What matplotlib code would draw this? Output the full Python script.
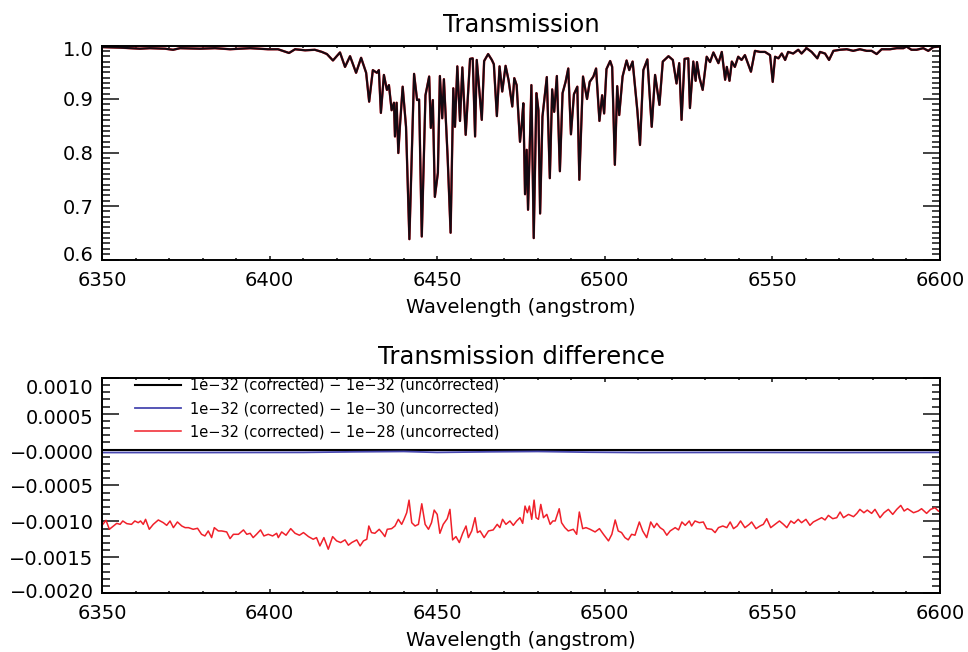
import matplotlib
matplotlib.use("Agg")
import matplotlib.pyplot as plt
from matplotlib.ticker import MultipleLocator, FixedLocator, FixedFormatter
from matplotlib.transforms import ScaledTranslation
import numpy as np

# ---------------- data ----------------
wave_top = [6350.0, 6355.4, 6361.3, 6364.3, 6368.8, 6371.2, 6373.3, 6379.2, 6383.7, 6388.2,
            6394.2, 6399.5, 6402.5, 6405.8, 6407.6, 6410.6, 6413.5, 6415.6, 6417.1, 6418.9,
            6421.0, 6422.5, 6424.0, 6425.8, 6427.3, 6428.8, 6429.7, 6430.8, 6432.0, 6432.6,
            6433.2, 6434.1, 6435.0, 6435.6, 6436.4, 6437.1, 6437.4, 6437.9, 6438.4, 6438.9,
            6439.7, 6440.7, 6441.7, 6443.1, 6444.0, 6444.6, 6445.4, 6446.5, 6447.6, 6448.1,
            6448.7, 6449.3, 6450.2, 6450.8, 6451.5, 6452.0, 6453.1, 6454.0, 6454.8, 6455.3,
            6456.0, 6456.8, 6457.5, 6458.5, 6459.8, 6460.6, 6461.3, 6461.8, 6463.3, 6464.0,
            6465.2, 6466.3, 6466.9, 6467.8, 6468.6, 6469.4, 6470.4, 6471.3, 6472.4, 6473.0,
            6473.7, 6474.7, 6475.2, 6475.7, 6476.2, 6476.7, 6477.1, 6478.1, 6478.8, 6479.6,
            6480.2, 6480.7, 6481.4, 6482.7, 6483.6, 6484.3, 6484.9, 6485.7, 6486.6, 6487.4,
            6488.3, 6489.1, 6489.9, 6490.8, 6491.8, 6492.4, 6493.5, 6494.7, 6495.5, 6496.6,
            6497.4, 6498.4, 6499.2, 6499.8, 6500.5, 6501.6, 6502.2, 6503.0, 6503.7, 6504.3,
            6505.3, 6506.5, 6507.3, 6508.3, 6509.7, 6510.5, 6511.5, 6512.7, 6514.0, 6515.0,
            6516.3, 6517.3, 6519.0, 6520.3, 6521.4, 6522.2, 6522.9, 6523.8, 6524.9, 6525.4,
            6526.4, 6527.1, 6527.5, 6528.2, 6529.2, 6530.4, 6531.4, 6532.4, 6533.9, 6534.9,
            6535.9, 6536.4, 6537.2, 6537.9, 6538.8, 6539.8, 6540.8, 6541.8, 6543.6, 6544.8,
            6546.3, 6547.8, 6549.3, 6550.1, 6550.8, 6551.8, 6552.8, 6553.8, 6554.7, 6556.2,
            6557.7, 6558.7, 6560.2, 6561.7, 6563.4, 6564.2, 6565.7, 6566.9, 6568.2, 6570.2,
            6572.2, 6574.1, 6576.1, 6578.1, 6579.6, 6581.1, 6582.6, 6585.1, 6587.1, 6589.1,
            6590.0, 6591.5, 6593.0, 6595.0, 6596.5, 6598.0, 6599.8, 6600.0]
trans_top = [0.997, 0.996, 0.994, 0.995, 0.994, 0.992, 0.995, 0.994, 0.995, 0.993,
             0.995, 0.993, 0.993, 0.986, 0.993, 0.991, 0.992, 0.988, 0.984, 0.972,
             0.987, 0.960, 0.980, 0.949, 0.977, 0.949, 0.895, 0.954, 0.949, 0.954,
             0.874, 0.945, 0.917, 0.926, 0.879, 0.893, 0.830, 0.893, 0.799, 0.851,
             0.923, 0.848, 0.638, 0.947, 0.898, 0.899, 0.643, 0.907, 0.942, 0.846,
             0.898, 0.717, 0.762, 0.943, 0.864, 0.937, 0.793, 0.650, 0.920, 0.848,
             0.961, 0.859, 0.959, 0.833, 0.975, 0.976, 0.830, 0.973, 0.861, 0.971,
             0.984, 0.973, 0.965, 0.868, 0.961, 0.914, 0.962, 0.935, 0.886, 0.939,
             0.926, 0.820, 0.851, 0.892, 0.722, 0.805, 0.693, 0.926, 0.640, 0.911,
             0.879, 0.686, 0.867, 0.941, 0.752, 0.918, 0.876, 0.943, 0.765, 0.911,
             0.932, 0.957, 0.834, 0.909, 0.923, 0.749, 0.942, 0.900, 0.932, 0.942,
             0.957, 0.859, 0.907, 0.873, 0.956, 0.971, 0.960, 0.777, 0.924, 0.870,
             0.942, 0.972, 0.954, 0.970, 0.879, 0.814, 0.954, 0.974, 0.848, 0.945,
             0.889, 0.970, 0.980, 0.973, 0.929, 0.967, 0.861, 0.975, 0.976, 0.883,
             0.970, 0.934, 0.969, 0.941, 0.917, 0.979, 0.969, 0.987, 0.967, 0.988,
             0.936, 0.960, 0.934, 0.970, 0.960, 0.979, 0.973, 0.982, 0.951, 0.990,
             0.988, 0.988, 0.982, 0.932, 0.979, 0.976, 0.985, 0.973, 0.988, 0.985,
             0.992, 0.985, 0.995, 0.988, 0.976, 0.988, 0.985, 0.973, 0.990, 0.992,
             0.993, 0.990, 0.993, 0.990, 0.990, 0.984, 0.993, 0.993, 0.995, 0.995,
             0.998, 0.992, 0.992, 0.995, 0.990, 0.997, 0.998, 0.998]

wave_red = [6350.0, 6351.2, 6352.2, 6353.4, 6354.4, 6355.4, 6356.2, 6357.4, 6358.8, 6359.8,
            6360.8, 6361.5, 6362.3, 6363.0, 6364.1, 6365.3, 6366.8, 6368.3, 6369.3, 6370.3,
            6371.3, 6372.5, 6373.8, 6374.8, 6375.8, 6377.2, 6378.5, 6379.7, 6380.7, 6381.7,
            6382.7, 6383.5, 6384.7, 6385.7, 6387.2, 6388.2, 6389.2, 6390.7, 6392.2, 6393.2,
            6394.2, 6395.1, 6396.1, 6397.3, 6398.3, 6399.6, 6400.9, 6402.1, 6402.6, 6403.6,
            6404.9, 6406.3, 6407.6, 6408.9, 6410.1, 6411.6, 6413.0, 6414.0, 6415.0, 6416.2,
            6417.5, 6418.8, 6420.0, 6421.2, 6422.5, 6423.5, 6424.5, 6426.0, 6427.0, 6428.0,
            6429.0, 6429.6, 6430.4, 6431.4, 6432.7, 6433.7, 6434.4, 6435.1, 6436.4, 6437.4,
            6438.4, 6439.4, 6440.1, 6440.9, 6441.6, 6442.4, 6443.4, 6444.4, 6445.4, 6446.4,
            6447.4, 6448.3, 6449.1, 6450.0, 6450.8, 6451.8, 6453.0, 6453.8, 6454.6, 6455.6,
            6456.6, 6457.6, 6458.6, 6459.3, 6460.3, 6461.3, 6462.0, 6462.8, 6464.0, 6465.3,
            6466.7, 6467.9, 6468.7, 6469.5, 6470.5, 6471.7, 6472.7, 6473.7, 6474.7, 6475.5,
            6476.2, 6476.9, 6477.5, 6478.2, 6478.9, 6479.5, 6480.2, 6480.9, 6481.7, 6482.7,
            6483.7, 6484.5, 6485.2, 6486.4, 6487.1, 6488.1, 6489.1, 6490.6, 6491.6, 6492.4,
            6493.4, 6494.4, 6495.6, 6497.1, 6498.4, 6499.6, 6501.1, 6502.1, 6503.1, 6504.0,
            6505.0, 6506.0, 6507.0, 6508.0, 6509.0, 6510.3, 6511.3, 6512.5, 6513.7, 6514.7,
            6515.5, 6516.5, 6517.5, 6518.5, 6519.5, 6521.0, 6522.0, 6523.0, 6524.0, 6525.2,
            6525.9, 6526.9, 6528.2, 6529.4, 6530.4, 6531.9, 6532.9, 6533.9, 6535.2, 6536.4,
            6537.4, 6538.4, 6539.5, 6540.5, 6541.8, 6543.1, 6543.8, 6545.1, 6546.3, 6547.3,
            6548.3, 6549.5, 6550.8, 6552.1, 6553.3, 6554.3, 6555.5, 6556.5, 6557.7, 6558.7,
            6560.0, 6561.2, 6562.2, 6563.7, 6564.7, 6565.7, 6566.7, 6568.0, 6569.2, 6570.2,
            6571.2, 6572.7, 6574.2, 6575.2, 6576.1, 6577.3, 6578.3, 6579.6, 6580.6, 6582.1,
            6583.3, 6584.6, 6585.9, 6587.1, 6588.3, 6589.3, 6590.3, 6592.1, 6593.5, 6594.5,
            6596.0, 6597.2, 6598.5, 6599.5, 6600.0]
diff_red = [-1.056, -0.986, -1.111, -1.065, -1.028, -1.042, -0.995, -1.032, -1.042, -0.995,
            -1.019, -0.995, -1.042, -0.972, -1.111, -1.042, -0.981, -1.019, -1.056, -0.995,
            -1.088, -1.009, -1.065, -1.088, -1.088, -1.111, -1.097, -1.181, -1.204, -1.134,
            -1.227, -1.088, -1.134, -1.134, -1.148, -1.241, -1.181, -1.181, -1.120, -1.181,
            -1.167, -1.227, -1.181, -1.120, -1.204, -1.181, -1.204, -1.167, -1.227, -1.148,
            -1.194, -1.102, -1.167, -1.194, -1.157, -1.213, -1.250, -1.227, -1.343, -1.227,
            -1.389, -1.213, -1.273, -1.296, -1.259, -1.333, -1.296, -1.259, -1.343, -1.273,
            -1.250, -1.065, -1.157, -1.167, -1.111, -1.167, -1.213, -1.111, -1.102, -1.065,
            -0.972, -1.042, -0.972, -0.880, -0.704, -1.019, -1.065, -1.042, -0.755, -1.042,
            -1.111, -1.019, -0.843, -0.903, -1.167, -1.042, -0.963, -0.833, -1.259, -1.213,
            -1.296, -1.167, -1.065, -1.227, -1.134, -0.949, -1.157, -1.134, -1.227, -1.134,
            -1.120, -1.042, -1.088, -0.972, -1.042, -0.995, -1.056, -0.995, -0.949, -1.028,
            -0.787, -0.880, -0.787, -0.972, -0.704, -0.949, -0.972, -0.764, -0.949, -0.903,
            -1.042, -0.995, -0.995, -0.824, -1.019, -1.088, -1.134, -1.111, -1.181, -0.870,
            -1.102, -1.088, -1.111, -1.148, -1.102, -1.181, -1.273, -1.181, -0.981, -1.134,
            -1.157, -1.227, -1.259, -1.181, -1.194, -1.009, -1.134, -1.227, -1.009, -1.088,
            -1.028, -1.088, -1.120, -1.194, -1.134, -1.088, -1.120, -1.009, -1.056, -0.995,
            -1.065, -0.995, -1.019, -1.009, -1.102, -1.111, -1.157, -1.088, -1.065, -1.088,
            -1.009, -1.102, -1.065, -0.995, -1.088, -1.042, -1.009, -1.102, -1.065, -1.042,
            -0.963, -1.088, -1.042, -0.995, -1.042, -1.088, -0.995, -1.028, -0.972, -1.019,
            -0.972, -1.056, -1.009, -0.972, -0.949, -0.981, -0.917, -0.963, -0.949, -0.870,
            -0.949, -0.903, -0.935, -0.889, -0.833, -0.880, -0.843, -0.889, -0.833, -0.949,
            -0.880, -0.833, -0.903, -0.833, -0.778, -0.856, -0.824, -0.880, -0.856, -0.824,
            -0.889, -0.833, -0.810, -0.856, -0.866]
diff_red = [v * 1e-3 for v in diff_red]

wave_blue = [6350, 6380, 6410, 6425, 6440, 6450, 6465, 6480, 6495, 6510, 6540, 6570, 6600]
diff_blue = [-4.0e-5, -4.0e-5, -3.8e-5, -3.0e-5, -2.5e-5, -3.8e-5, -3.0e-5, -2.5e-5,
             -3.5e-5, -4.0e-5, -3.8e-5, -4.0e-5, -3.8e-5]

wave_black = [6350, 6600]
diff_black = [0.0, 0.0]

legend_labels = ["1e\u221232 (corrected) \u2212 1e\u221232 (uncorrected)",
                 "1e\u221232 (corrected) \u2212 1e\u221230 (uncorrected)",
                 "1e\u221232 (corrected) \u2212 1e\u221228 (uncorrected)"]

top_yticks = [0.6, 0.7, 0.8, 0.9, 1.0]
top_ylabels = ["0.6", "0.7", "0.8", "0.9", "1.0"]
bot_yticks = [-0.0020, -0.0015, -0.0010, -0.0005, 0.0, 0.0005, 0.0010]
bot_ylabels = ["\u22120.0020", "\u22120.0015", "\u22120.0010", "\u22120.0005",
               "\u22120.0000", "0.0005", "0.0010"]

# ---------------- figure ----------------
plt.rcParams['font.family'] = ['DejaVu Sans']
W, H = 968, 652
fig = plt.figure(figsize=(W / 100, H / 100), dpi=100)
fig.patch.set_facecolor('white')

def px_axes(left, top, right, bottom):
    return fig.add_axes([left / W, 1 - bottom / H, (right - left) / W, (bottom - top) / H])

ax1 = px_axes(102, 45.5, 940, 259.5)
ax2 = px_axes(102, 378, 940, 593)

BLUE = '#4848b0'
RED = '#f0202a'

def style(ax):
    for s in ax.spines.values():
        s.set_linewidth(1.4)
    ax.xaxis.set_major_locator(MultipleLocator(50))
    ax.xaxis.set_minor_locator(MultipleLocator(10))
    ax.tick_params(axis='both', which='both', direction='in', top=True, right=True,
                   labelsize=14, width=1.2, color='#222222')
    ax.tick_params(axis='x', which='major', length=3.2, pad=8)
    ax.tick_params(axis='x', which='minor', length=1.6)
    ax.tick_params(axis='y', which='major', length=12, pad=6)
    ax.tick_params(axis='y', which='minor', length=6)
    ax.set_xlim(6350, 6600)
    ax.set_xlabel("Wavelength (angstrom)", fontsize=14, labelpad=6)

def shift_labels(ax, shifts_px):
    # IDL-style: edge labels nudged inward
    ticks = ax.yaxis.get_major_ticks()
    for tick, dy in zip(ticks, shifts_px):
        if dy:
            lab = tick.label1
            lab.set_transform(lab.get_transform() +
                              ScaledTranslation(0, dy / 100.0, fig.dpi_scale_trans))

# top panel
ax1.plot(wave_top, trans_top, color=RED, lw=1.7, solid_joinstyle='round')
ax1.plot(wave_top, trans_top, color='#140a12', lw=1.5, solid_joinstyle='round')
style(ax1)
ax1.set_ylim(0.6, 1.0)
ax1.yaxis.set_major_locator(FixedLocator(top_yticks))
ax1.yaxis.set_major_formatter(FixedFormatter(top_ylabels))
ax1.yaxis.set_minor_locator(MultipleLocator(0.01))
ax1.set_title("Transmission", fontsize=17.5, pad=10)

# bottom panel
l1, = ax2.plot(wave_black, diff_black, color='black', lw=1.5)
l2, = ax2.plot(wave_blue, diff_blue, color=BLUE, lw=1.3)
l3, = ax2.plot(wave_red, diff_red, color=RED, lw=1.1)
style(ax2)
ax2.set_ylim(-0.0020, 0.0010)
ax2.yaxis.set_major_locator(FixedLocator(bot_yticks))
ax2.yaxis.set_major_formatter(FixedFormatter(bot_ylabels))
ax2.yaxis.set_minor_locator(MultipleLocator(0.0001))
ax2.set_title("Transmission difference", fontsize=17.5, pad=10)
ax2.legend([l1, l2, l3], legend_labels, loc='upper left', bbox_to_anchor=(0.039, 1.0),
           frameon=False, fontsize=10.5, handlelength=3.2, handletextpad=0.6,
           labelspacing=0.55, borderpad=0.0, borderaxespad=0.0)

fig.canvas.draw()
shift_labels(ax1, [6, 0, 0, 0, -3])
shift_labels(ax2, [3, 0, 0, 0, -2, -3, -8])

fig.savefig("out.png", dpi=100, facecolor='white')
